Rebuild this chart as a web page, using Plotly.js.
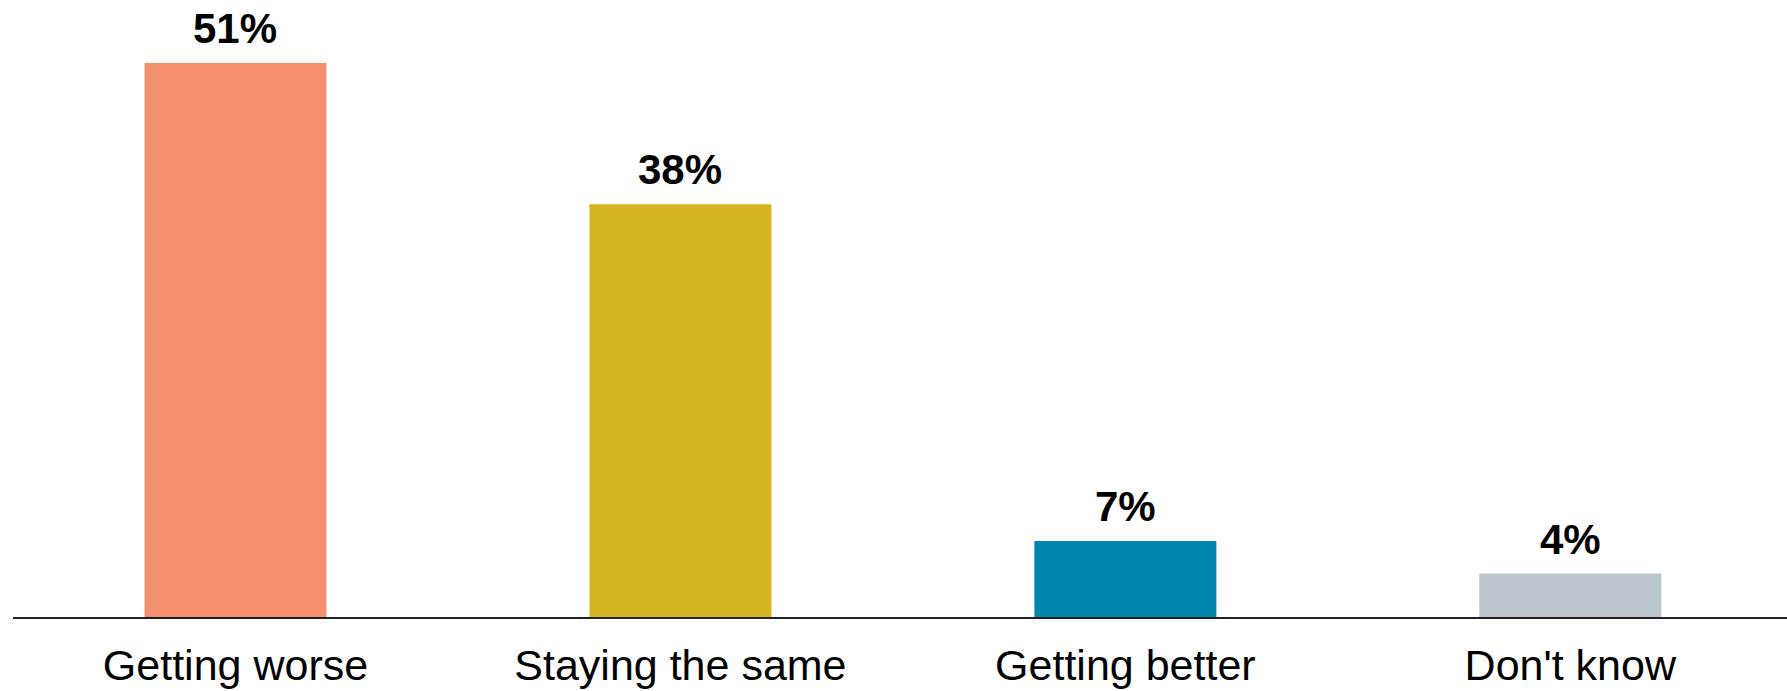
<!DOCTYPE html>
<html>
<head>
<meta charset="utf-8">
<script src="https://cdn.plot.ly/plotly-3.0.1.min.js"></script>
<style>html,body{margin:0;padding:0;background:#fff;overflow:hidden}#chart{width:1787px;height:691px}</style>
</head>
<body>
<div id="chart"></div>
<script>
const categories = ["Getting worse", "Staying the same", "Getting better", "Don't know"];
const values = [51, 38, 7, 4];
const valueLabels = ["51%", "38%", "7%", "4%"];
const barColors = ["#F5906F", "#D4B421", "#0085AD", "#BAC5CC"];

const trace = {
  type: "bar",
  x: categories,
  y: values,
  marker: {color: barColors, line: {width: 0}},
  hoverinfo: "none"
};

const annotations = categories.map((c, i) => ({
  x: c, y: values[i], xref: "x", yref: "y",
  text: "<b>" + valueLabels[i] + "</b>", showarrow: false,
  yanchor: "bottom", yshift: 9,
  font: {family: "Liberation Sans, Arial, sans-serif", size: 42, color: "#000"}
}));

const layout = {
  width: 1787, height: 691,
  margin: {l: 13, r: 0, t: 0, b: 74},
  paper_bgcolor: "#fff", plot_bgcolor: "#fff",
  bargap: 0.591,
  showlegend: false,
  xaxis: {
    type: "category",
    range: [-0.5, 3.487],
    showline: true, linecolor: "#222", linewidth: 2,
    ticks: "", showgrid: false, zeroline: false,
    ticklabelstandoff: 9,
    tickfont: {family: "Liberation Sans, Arial, sans-serif", size: 43, color: "#000"}
  },
  yaxis: {
    range: [0, 56.8],
    visible: false, showgrid: false, zeroline: false
  },
  annotations: annotations
};

Plotly.newPlot("chart", [trace], layout, {displayModeBar: false, staticPlot: true});
</script>
</body>
</html>
